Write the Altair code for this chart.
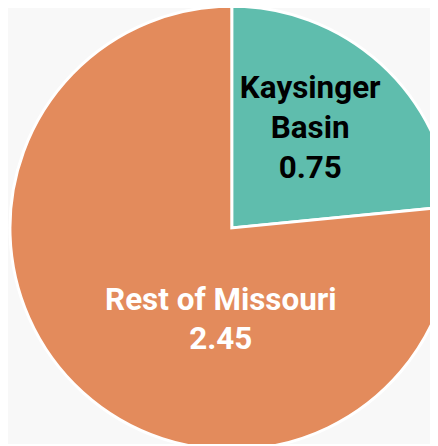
import altair as alt
import pandas as pd

categories = ["Kaysinger\nBasin", "Rest of Missouri"]
values = [0.75, 2.45]
order = [0, 1]
colors = ["#5FBDAD", "#E38B5C"]
text_colors = ["#000000", "#FFFFFF"]

df = pd.DataFrame({"category": categories, "value": values, "order": order})
df["label"] = [f"{c}\n{v:.2f}" for c, v in zip(categories, values)]

FONT = "Roboto"

base = alt.Chart(df).encode(
    theta=alt.Theta("value:Q", stack=True),
    order=alt.Order("order:Q"),
)

pie = base.mark_arc(radius=226, stroke="white", strokeWidth=3).encode(
    color=alt.Color("category:N", scale=alt.Scale(domain=categories, range=colors), legend=None)
)

lab1 = base.mark_text(
    radius=128, font=FONT, fontSize=32, fontWeight="bold", lineBreak="\n",
    lineHeight=41, align="center", baseline="middle", color=text_colors[0], dx=-6, dy=-48,
).encode(text="t:N").transform_calculate(t="datum.order == 0 ? datum.label : ''")

lab2 = base.mark_text(
    radius=100, font=FONT, fontSize=32, fontWeight="bold", lineBreak="\n",
    lineHeight=39, align="center", baseline="middle", color=text_colors[1], dx=56, dy=0,
).encode(text="t:N").transform_calculate(t="datum.order == 1 ? datum.label : ''")

chart = alt.layer(pie, lab1, lab2).properties(
    width=404, height=432,
    padding={"left": 26, "top": 4, "right": 0, "bottom": 0},
    autosize=alt.AutoSizeParams(type="none"),
    background="#f8f8f8",
).configure_view(stroke=None)

chart.save("out.html", embed_options={"renderer": "svg", "actions": False})
